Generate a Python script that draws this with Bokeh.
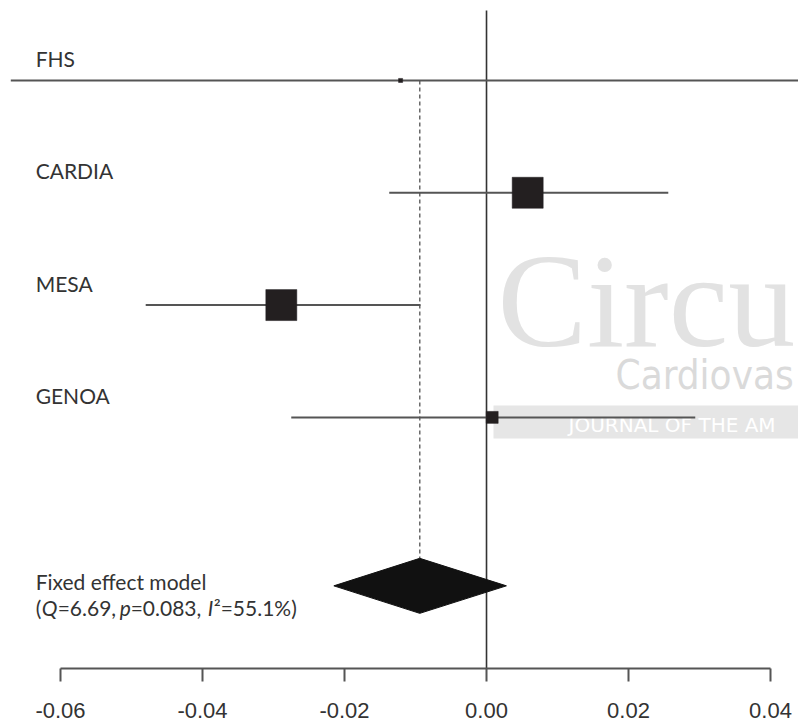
import math
from bokeh.plotting import figure
from bokeh.models import (Range1d, LinearAxis, FixedTicker, BoxAnnotation, Label,
                          PrintfTickFormatter)
from bokeh.core.properties import value
from bokeh.embed import file_html
from bokeh.resources import INLINE

# ---------------- data ----------------
studies = ["FHS", "CARDIA", "MESA", "GENOA"]
estimates = [-0.0121, 0.0058, -0.0289, 0.0008]
ci_lower = [-0.0670, -0.0137, -0.0480, -0.0275]
ci_upper = [0.0460, 0.0256, -0.0093, 0.0294]
weights = [0.8, 46.2, 46.2, 6.9]          # relative weight (%), sets box area

pooled_name = "Fixed effect model"
pooled_estimate = -0.0094
pooled_lower = -0.0215
pooled_upper = 0.0028
het_Q = "6.69"
het_p = "0.083"
het_I2 = "55.1%"

tick_values = [-0.06, -0.04, -0.02, 0.00, 0.02, 0.04]
tick_labels = ["-0.06", "-0.04", "-0.02", "0.00", "0.02", "0.04"]

# ---------------- layout ----------------
W, H = 798, 723
BOTTOM = 55
FRAME_H = H - BOTTOM
X0, X1 = -0.06845, 0.04394
Y_TOP, Y_BOT = 4.712, -1.236

rows = [4, 3, 2, 1]
pooled_row = -0.5
diamond_half = 0.245
label_x = -0.0635

def px_x(px):
    return X0 + px * (X1 - X0) / W

def px_y(py):
    return Y_TOP - py * (Y_TOP - Y_BOT) / FRAME_H

p = figure(width=W, height=H, x_range=Range1d(X0, X1), y_range=Range1d(Y_BOT, Y_TOP),
           output_backend="svg", toolbar_location=None,
           x_axis_location=None, y_axis_location=None,
           min_border_left=0, min_border_right=0, min_border_top=0,
           min_border_bottom=BOTTOM)
p.outline_line_color = None
p.grid.visible = False
p.background_fill_color = "white"
p.border_fill_color = "white"

# ---------------- watermark (visible part only) ----------------
p.add_layout(BoxAnnotation(left=px_x(493), right=px_x(805), top=px_y(405), bottom=px_y(438),
                           fill_color="#e6e6e6", fill_alpha=1.0, line_color=None,
                           level="underlay"))
p.add_layout(Label(x=px_x(497), y=px_y(300), text="Circu",
                   text_font="Liberation Serif", text_font_size="134px",
                   text_color="#e2e2e2", text_baseline="alphabetic", level="underlay"))
p.add_layout(Label(x=px_x(615), y=px_y(374), text="Cardiovas",
                   text_font="'Liberation Sans Narrow', 'DejaVu Sans Condensed', 'Roboto'",
                   text_font_size="40px", text_color="#dadada",
                   text_baseline="alphabetic", level="underlay"))
p.add_layout(Label(x=px_x(568), y=px_y(424), text="JOURNAL OF THE AM",
                   text_font="DejaVu Sans", text_font_size="20px",
                   text_color="#ffffff", text_baseline="alphabetic", level="underlay"))

# ---------------- reference lines ----------------
p.segment(x0=[0.0], y0=[Y_BOT], x1=[0.0], y1=[px_y(10)],
          line_color="#333333", line_width=1.6)
p.segment(x0=[pooled_estimate], y0=[rows[0]], x1=[pooled_estimate],
          y1=[pooled_row + diamond_half],
          line_color="#6a6a6a", line_width=1.5, line_dash="4 3")

# ---------------- study CIs and boxes ----------------
p.segment(x0=ci_lower, y0=rows, x1=ci_upper, y1=rows,
          line_color="#555555", line_width=2)
wmax = max(weights)
sizes = [31 * math.sqrt(w / wmax) for w in weights]
p.scatter(x=estimates, y=rows, size=sizes, marker="square",
          fill_color="#231f20", line_color="#231f20", line_width=0.5)

# ---------------- pooled diamond ----------------
p.patch(x=[pooled_lower, pooled_estimate, pooled_upper, pooled_estimate],
        y=[pooled_row, pooled_row + diamond_half, pooled_row, pooled_row - diamond_half],
        fill_color="#111111", line_color="#111111", line_width=1)

# ---------------- labels ----------------
TXT = dict(text_font=value("Lato"), text_font_size="21px", text_color="#333333",
           text_baseline="middle", text_align="left")
p.text(x=[label_x] * len(studies), y=rows, text=studies, y_offset=-22, **TXT)
p.text(x=[label_x], y=[pooled_row], text=[pooled_name], y_offset=-4, **TXT)

segs = ["(", "Q", "=" + het_Q + ", ", "p", "=" + het_p + ", ", "I", "\u00b2=" + het_I2 + ")"]
italic = [False, True, False, True, False, True, False]
offsets = [0, 6, 22, 84, 95, 172, 178]
for s, it, off in zip(segs, italic, offsets):
    p.text(x=[label_x], y=[pooled_row], text=[s], y_offset=22, x_offset=off,
           text_font_style="italic" if it else "normal", **TXT)

# ---------------- axis ----------------
ax = LinearAxis(ticker=FixedTicker(ticks=tick_values), bounds=(tick_values[0], tick_values[-1]),
                formatter=PrintfTickFormatter(format="%.2f"),
                major_label_overrides=dict(zip(tick_values, tick_labels)))
ax.axis_line_color = "#555555"
ax.axis_line_width = 2
ax.major_tick_line_color = "#555555"
ax.major_tick_line_width = 2
ax.major_tick_out = 13
ax.major_tick_in = 0
ax.minor_tick_out = 0
ax.minor_tick_in = 0
ax.major_label_text_font = "Liberation Sans"
ax.major_label_text_font_size = "22px"
ax.major_label_text_color = "#333333"
ax.major_label_standoff = 21
p.add_layout(ax, "below")

open("out.html", "w").write(file_html(p, INLINE))
